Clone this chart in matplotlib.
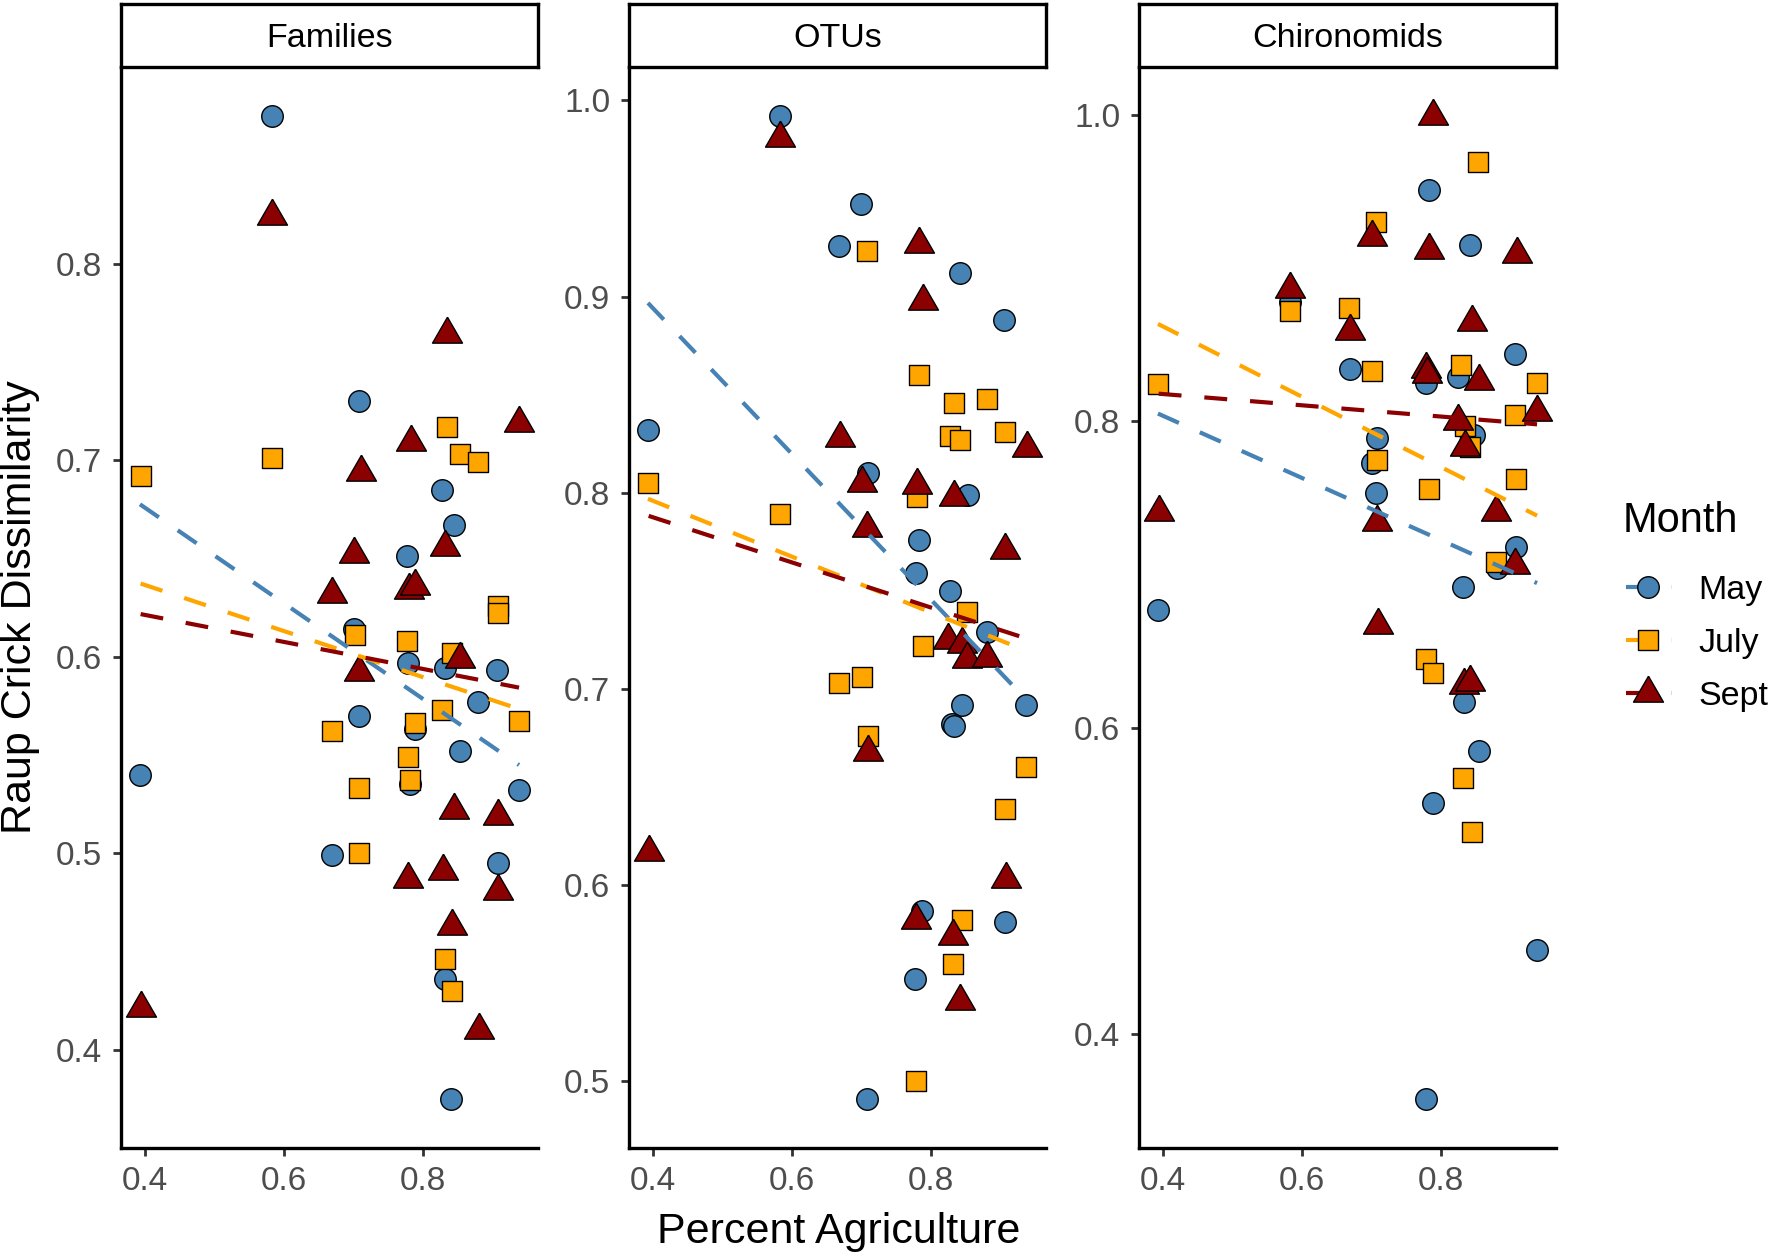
import numpy as np
import matplotlib
matplotlib.use("Agg")
import matplotlib.pyplot as plt
from matplotlib.lines import Line2D

plt.rcParams['font.family'] = ['Liberation Sans', 'DejaVu Sans']

# ---------------- data ----------------
panels = ["Families", "OTUs", "Chironomids"]
months = ["May", "July", "Sept"]
month_colors = ["#4682B4", "#FFA500", "#8B0000"]

fam_may_x = [0.583, 0.709, 0.828, 0.845, 0.778, 0.701, 0.779, 0.832, 0.907, 0.880,
             0.708, 0.789, 0.854, 0.782, 0.939, 0.669, 0.908, 0.393, 0.833, 0.841]
fam_may_y = [0.875, 0.730, 0.685, 0.667, 0.651, 0.614, 0.597, 0.594, 0.593, 0.577,
             0.570, 0.563, 0.552, 0.535, 0.532, 0.499, 0.495, 0.540, 0.436, 0.375]
fam_jul_x = [0.835, 0.583, 0.854, 0.880, 0.394, 0.908, 0.908, 0.703, 0.778, 0.842,
             0.828, 0.789, 0.939, 0.669, 0.779, 0.782, 0.709, 0.708, 0.833, 0.842]
fam_jul_y = [0.717, 0.701, 0.703, 0.699, 0.692, 0.626, 0.622, 0.611, 0.608, 0.602,
             0.573, 0.566, 0.567, 0.562, 0.549, 0.537, 0.533, 0.500, 0.446, 0.430]
fam_sep_x = [0.583, 0.835, 0.939, 0.783, 0.711, 0.832, 0.701, 0.669, 0.780, 0.789,
             0.854, 0.708, 0.846, 0.909, 0.779, 0.829, 0.908, 0.842, 0.394, 0.881]
fam_sep_y = [0.824, 0.764, 0.719, 0.709, 0.694, 0.656, 0.652, 0.632, 0.634, 0.636,
             0.599, 0.592, 0.522, 0.519, 0.487, 0.491, 0.481, 0.463, 0.421, 0.410]

otu_may_x = [0.583, 0.700, 0.668, 0.842, 0.905, 0.393, 0.709, 0.853, 0.782, 0.779,
             0.827, 0.880, 0.844, 0.830, 0.833, 0.937, 0.787, 0.907, 0.777, 0.708]
otu_may_y = [0.992, 0.947, 0.926, 0.912, 0.888, 0.832, 0.810, 0.799, 0.776, 0.759,
             0.750, 0.729, 0.692, 0.682, 0.681, 0.692, 0.587, 0.581, 0.552, 0.491]
otu_jul_x = [0.708, 0.782, 0.833, 0.880, 0.827, 0.841, 0.906, 0.393, 0.780, 0.583,
             0.852, 0.789, 0.668, 0.701, 0.709, 0.937, 0.906, 0.844, 0.832, 0.778]
otu_jul_y = [0.923, 0.860, 0.846, 0.848, 0.829, 0.827, 0.831, 0.805, 0.798, 0.789,
             0.739, 0.722, 0.703, 0.706, 0.676, 0.660, 0.639, 0.582, 0.560, 0.500]
otu_sep_x = [0.583, 0.782, 0.788, 0.669, 0.938, 0.701, 0.780, 0.833, 0.708, 0.906,
             0.825, 0.844, 0.852, 0.880, 0.709, 0.394, 0.908, 0.778, 0.832, 0.842]
otu_sep_y = [0.981, 0.927, 0.898, 0.828, 0.823, 0.805, 0.804, 0.798, 0.782, 0.771,
             0.725, 0.723, 0.715, 0.716, 0.668, 0.617, 0.603, 0.582, 0.574, 0.541]

# (the 0.583 May point sits hidden beneath the July square / Sept triangle)
chi_may_x = [0.782, 0.841, 0.907, 0.669, 0.779, 0.825, 0.847, 0.708, 0.701, 0.707,
             0.908, 0.880, 0.832, 0.393, 0.833, 0.854, 0.789, 0.938, 0.778, 0.583]
chi_may_y = [0.951, 0.915, 0.844, 0.834, 0.825, 0.829, 0.791, 0.789, 0.773, 0.753,
             0.718, 0.704, 0.692, 0.677, 0.617, 0.585, 0.551, 0.455, 0.358, 0.878]
chi_jul_x = [0.853, 0.707, 0.583, 0.668, 0.701, 0.828, 0.938, 0.393, 0.907, 0.835,
             0.842, 0.708, 0.782, 0.908, 0.879, 0.778, 0.789, 0.832, 0.844]
chi_jul_y = [0.969, 0.930, 0.872, 0.874, 0.833, 0.837, 0.825, 0.824, 0.804, 0.797,
             0.783, 0.775, 0.756, 0.762, 0.708, 0.645, 0.636, 0.567, 0.532]
chi_sep_x = [0.789, 0.701, 0.782, 0.909, 0.583, 0.669, 0.845, 0.779, 0.780, 0.854,
             0.938, 0.825, 0.835, 0.394, 0.879, 0.708, 0.907, 0.710, 0.833, 0.842]
chi_sep_y = [0.999, 0.920, 0.912, 0.909, 0.886, 0.859, 0.865, 0.834, 0.831, 0.826,
             0.806, 0.800, 0.783, 0.741, 0.741, 0.734, 0.706, 0.667, 0.628, 0.630]

x_ticks = [0.4, 0.6, 0.8]
fam_y_ticks = [0.4, 0.5, 0.6, 0.7, 0.8]
otu_y_ticks = [0.5, 0.6, 0.7, 0.8, 0.9, 1.0]
chi_y_ticks = [0.4, 0.6, 0.8, 1.0]

panel_data = {
    "Families": [(fam_may_x, fam_may_y), (fam_jul_x, fam_jul_y), (fam_sep_x, fam_sep_y)],
    "OTUs": [(otu_may_x, otu_may_y), (otu_jul_x, otu_jul_y), (otu_sep_x, otu_sep_y)],
    "Chironomids": [(chi_may_x, chi_may_y), (chi_jul_x, chi_jul_y), (chi_sep_x, chi_sep_y)],
}
panel_yticks = {"Families": fam_y_ticks, "OTUs": otu_y_ticks, "Chironomids": chi_y_ticks}

# ---------------- styling ----------------
W, H = 1770, 1255
fig = plt.figure(figsize=(W / 100, H / 100), dpi=100)

tri_verts = [(0.0, 1.1547), (-1.0, -0.57735), (1.0, -0.57735), (0.0, 1.1547)]
markers = ["o", "s", tri_verts]
msizes = [15.5, 13.9, 24.9]  # points
line_dashes = (5.5, 5.5)
line_lw = 3.0
axis_lw = 2.4
tick_color = "#333333"
label_color = "#4D4D4D"

ax_lefts_px = [121, 629, 1139]
ax_width_px = 417
ax_top_px = 67
ax_bottom_px = 1148
strip_top_px = 4


def expand(lo, hi, frac=0.05):
    r = hi - lo
    return lo - frac * r, hi + frac * r


for pi, pname in enumerate(panels):
    left = ax_lefts_px[pi] / W
    bottom = (H - ax_bottom_px) / H
    height = (ax_bottom_px - ax_top_px) / H
    width = ax_width_px / W
    ax = fig.add_axes([left, bottom, width, height])

    series = panel_data[pname]
    allx = np.concatenate([np.asarray(s[0]) for s in series])
    ally = np.concatenate([np.asarray(s[1]) for s in series])

    for mi, (xs, ys) in enumerate(series):
        ax.scatter(xs, ys, s=msizes[mi] ** 2, marker=markers[mi], facecolor=month_colors[mi],
                   edgecolor="black", linewidths=1.0, zorder=3 + mi)

    for mi, (xs, ys) in enumerate(series):
        xs = np.asarray(xs)
        ys = np.asarray(ys)
        slope, intercept = np.polyfit(xs, ys, 1)
        xx = np.array([xs.min(), xs.max()])
        ax.plot(xx, intercept + slope * xx, color=month_colors[mi], lw=line_lw,
                dashes=line_dashes, zorder=10, dash_capstyle="butt")

    ax.set_xlim(*expand(allx.min(), allx.max()))
    ax.set_ylim(*expand(ally.min(), ally.max()))
    ax.set_xticks(x_ticks)
    ax.set_xticklabels([f"{v:.1f}" for v in x_ticks])
    yt = panel_yticks[pname]
    ax.set_yticks(yt)
    ax.set_yticklabels([f"{v:.1f}" for v in yt])

    for side in ["top", "right"]:
        ax.spines[side].set_visible(False)
    for side in ["left", "bottom"]:
        ax.spines[side].set_linewidth(axis_lw)
        ax.spines[side].set_color("black")
        ax.spines[side].set_capstyle("projecting")
    ax.tick_params(axis="both", length=6, width=2.0, color=tick_color,
                   labelsize=24, labelcolor=label_color)
    ax.tick_params(axis="x", pad=7)
    ax.tick_params(axis="y", pad=7.5)

    # strip
    sax = fig.add_axes([left, (H - ax_top_px) / H, width, (ax_top_px - strip_top_px) / H])
    sax.set_xticks([])
    sax.set_yticks([])
    for sp in sax.spines.values():
        sp.set_linewidth(axis_lw)
        sp.set_color("black")
    sax.text(0.5, 0.45, pname, ha="center", va="center", fontsize=24.5, color="black",
             transform=sax.transAxes)

# axis titles
fig.text(20 / W, 1 - 607 / H, "Raup Crick Dissimilarity", rotation=90, ha="center",
         va="center", fontsize=31, color="black")
fig.text(838.5 / W, (H - 1243) / H, "Percent Agriculture", ha="center", va="baseline",
         fontsize=31, color="black")

# legend (drawn manually, ggplot-style)
fig.text(1623 / W, (H - 532) / H, "Month", ha="left", va="baseline", fontsize=30, color="black")
key_y_px = [587, 640, 693]
for mi, mname in enumerate(months):
    yk = (H - key_y_px[mi]) / H
    fig.add_artist(Line2D([1626 / W, 1672 / W], [yk, yk], color=month_colors[mi], lw=line_lw,
                          dashes=line_dashes, transform=fig.transFigure, dash_capstyle="butt"))
    fig.add_artist(Line2D([1648 / W], [yk], marker=markers[mi], markersize=msizes[mi],
                          markerfacecolor=month_colors[mi], markeredgecolor="black",
                          markeredgewidth=1.0, linestyle="none", transform=fig.transFigure))
    fig.text(1698 / W, yk, mname, ha="left", va="center_baseline", fontsize=24.5, color="black")

fig.savefig("out.png", dpi=100, facecolor="white")
